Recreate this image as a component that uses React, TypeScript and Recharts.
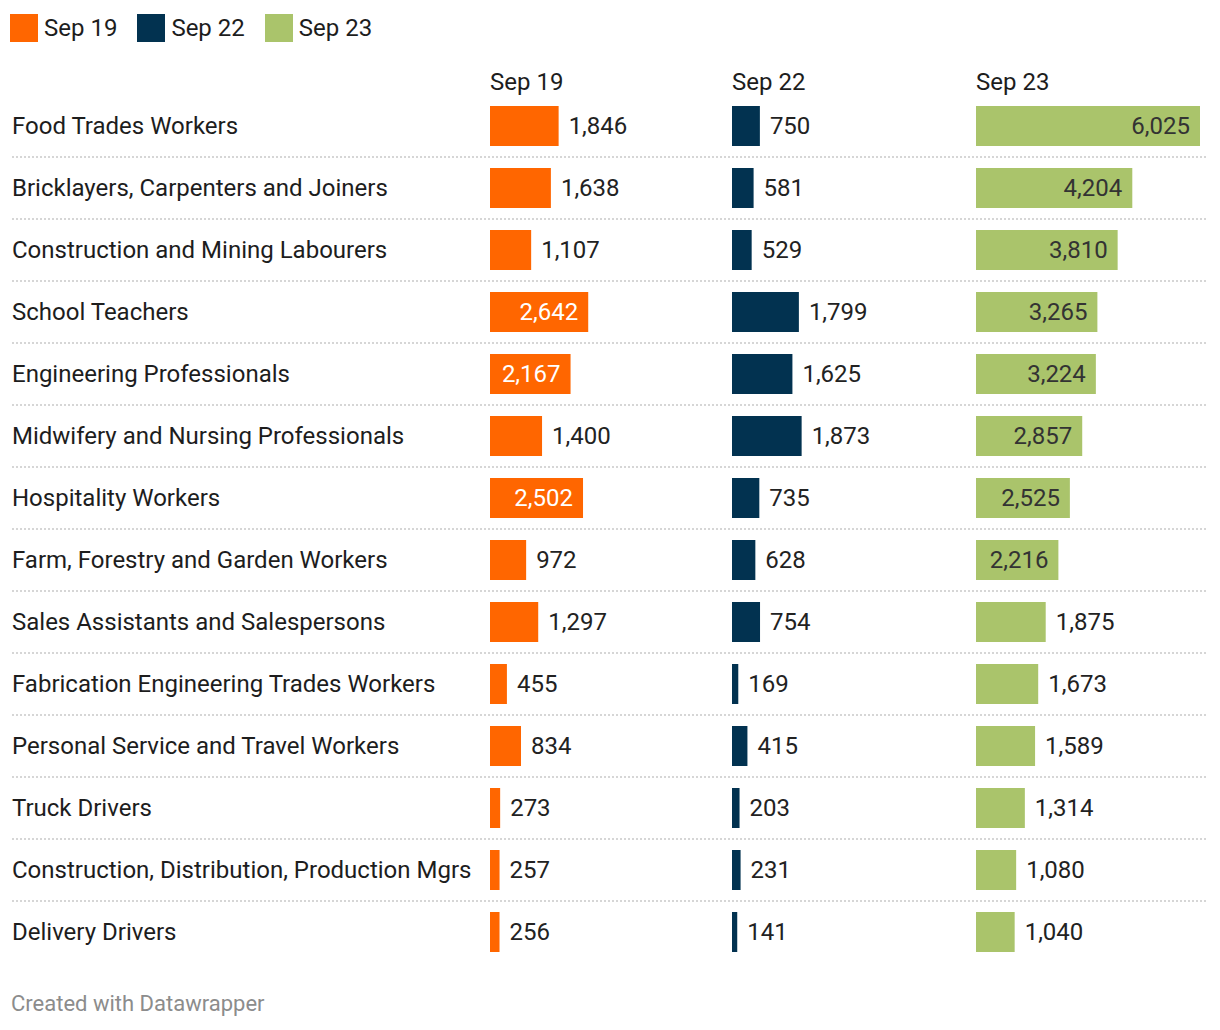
import { BarChart, Bar, XAxis, YAxis, LabelList } from "recharts";

const categories = [
  "Food Trades Workers",
  "Bricklayers, Carpenters and Joiners",
  "Construction and Mining Labourers",
  "School Teachers",
  "Engineering Professionals",
  "Midwifery and Nursing Professionals",
  "Hospitality Workers",
  "Farm, Forestry and Garden Workers",
  "Sales Assistants and Salespersons",
  "Fabrication Engineering Trades Workers",
  "Personal Service and Travel Workers",
  "Truck Drivers",
  "Construction, Distribution, Production Mgrs",
  "Delivery Drivers",
];

const sep19 = [1846, 1638, 1107, 2642, 2167, 1400, 2502, 972, 1297, 455, 834, 273, 257, 256];
const sep22 = [750, 581, 529, 1799, 1625, 1873, 735, 628, 754, 169, 415, 203, 231, 141];
const sep23 = [6025, 4204, 3810, 3265, 3224, 2857, 2525, 2216, 1875, 1673, 1589, 1314, 1080, 1040];

const seriesNames = ["Sep 19", "Sep 22", "Sep 23"];
const seriesKeys = ["s19", "s22", "s23"];
const seriesColors = ["#ff6600", "#023250", "#aac46b"];
const insideText = ["#ffffff", "#ffffff", "#333333"];
const colLeft = [490, 732, 976];

const rows = categories.map((name, i) => ({
  name,
  s19: sep19[i],
  s22: sep22[i],
  s23: sep23[i],
}));

const W = 1220;
const TOP = 95;
const ROW_H = 62;
const H = ROW_H * categories.length;
const PLOT_W = 224;
const MAX = Math.max(...sep19, ...sep22, ...sep23);
const INSIDE_MIN = 2000;
const FS = 24;
const FONT = "Roboto, 'Noto Sans', sans-serif";
const fmt = (v: number) => v.toLocaleString("en-US");

function RowTick(props: any) {
  const { y, payload, index } = props;
  return (
    <g>
      <text x={12} y={y} dy="0.35em" fontSize={FS} fill="#1d1d1d" fontFamily={FONT} textAnchor="start">
        {payload.value}
      </text>
      {index < categories.length - 1 && (
        <line x1={12} x2={1208} y1={y + ROW_H / 2} y2={y + ROW_H / 2} stroke="#d6d6d6" strokeWidth={2} strokeDasharray="2 2" />
      )}
    </g>
  );
}

function makeLabel(col: number) {
  return (props: any) => {
    const { x, y, width, height, value } = props;
    const inside = value >= INSIDE_MIN;
    return (
      <text
        x={inside ? x + width - 10 : x + width + 10}
        y={y + height / 2}
        dy="0.35em"
        textAnchor={inside ? "end" : "start"}
        fontSize={FS}
        fontFamily={FONT}
        fill={inside ? insideText[col] : "#222222"}
      >
        {fmt(value)}
      </text>
    );
  };
}

export default function App() {
  return (
    <div style={{ position: "absolute", left: 0, top: 0, width: W, height: 1030, background: "#fff", fontFamily: FONT, color: "#1d1d1d" }}>
      {/* legend */}
      <div style={{ position: "absolute", left: 10, top: 14, display: "flex", alignItems: "center", height: 28 }}>
        {seriesNames.map((n, i) => (
          <div key={n} style={{ display: "flex", alignItems: "center", marginRight: 20 }}>
            <div style={{ width: 28, height: 28, background: seriesColors[i], marginRight: 6 }} />
            <span style={{ fontSize: FS }}>{n}</span>
          </div>
        ))}
      </div>

      {/* column headers */}
      {seriesNames.map((n, i) => (
        <div key={n} style={{ position: "absolute", left: colLeft[i], top: 68, fontSize: FS, lineHeight: "28px" }}>
          {n}
        </div>
      ))}

      {seriesKeys.map((k, i) => (
        <div key={k} style={{ position: "absolute", left: 0, top: TOP }}>
          <BarChart
            width={W}
            height={H}
            data={rows}
            layout="vertical"
            margin={{ top: 0, bottom: 0, left: i === 0 ? 0 : colLeft[i], right: W - colLeft[i] - PLOT_W }}
          >
            <XAxis type="number" domain={[0, MAX]} hide />
            {i === 0 ? (
              <YAxis type="category" dataKey="name" width={colLeft[0]} axisLine={false} tickLine={false} tick={<RowTick />} interval={0} />
            ) : (
              <YAxis type="category" dataKey="name" hide />
            )}
            <Bar dataKey={k} fill={seriesColors[i]} barSize={40} isAnimationActive={false}>
              <LabelList dataKey={k} content={makeLabel(i)} />
            </Bar>
          </BarChart>
        </div>
      ))}

      <div style={{ position: "absolute", left: 11, top: 990, fontSize: 22, color: "#8c8c8c", lineHeight: "28px" }}>
        Created with Datawrapper
      </div>
    </div>
  );
}
